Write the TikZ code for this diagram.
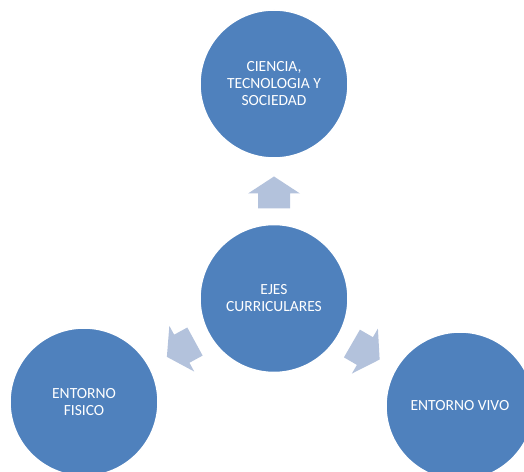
\documentclass[tikz,border=0pt]{standalone}
\usepackage{fontspec}
\setmainfont{Carlito}
\usetikzlibrary{calc}
\definecolor{circblue}{HTML}{4F81BD}
\definecolor{arrblue}{HTML}{B3C2DC}
\tikzset{
  circ/.style={circle, fill=circblue, draw=white, line width=1.5pt, minimum size=148pt, inner sep=0pt,
    text=white, align=center, font=\fontsize{15.5}{17}\selectfont},
  blockarrow/.style={fill=arrblue, draw=none}
}
\begin{document}
\begin{tikzpicture}[x=1pt,y=1pt]
\useasboundingbox (0,0) rectangle (524,471);
\node[circ] (t) at (274,387) {CIENCIA,\\TECNOLOGIA Y\\SOCIEDAD};
\node[circ] (c) at (274,172.5) {EJES\\CURRICULARES};
\node[circ] (l) at (84,69) {ENTORNO\\FISICO};
\node[circ] (r) at (460,65) {ENTORNO VIVO};
\foreach \tgt/\ang in {t/90, l/208.6, r/330}{
  \begin{scope}[shift={($(c)!106pt!(\tgt)$)}, rotate=\ang]
    \fill[blockarrow] (-16,-16) -- (-1,-16) -- (-1,-26) -- (16,0) -- (-1,26) -- (-1,16) -- (-16,16) -- cycle;
  \end{scope}
}
\end{tikzpicture}
\end{document}
